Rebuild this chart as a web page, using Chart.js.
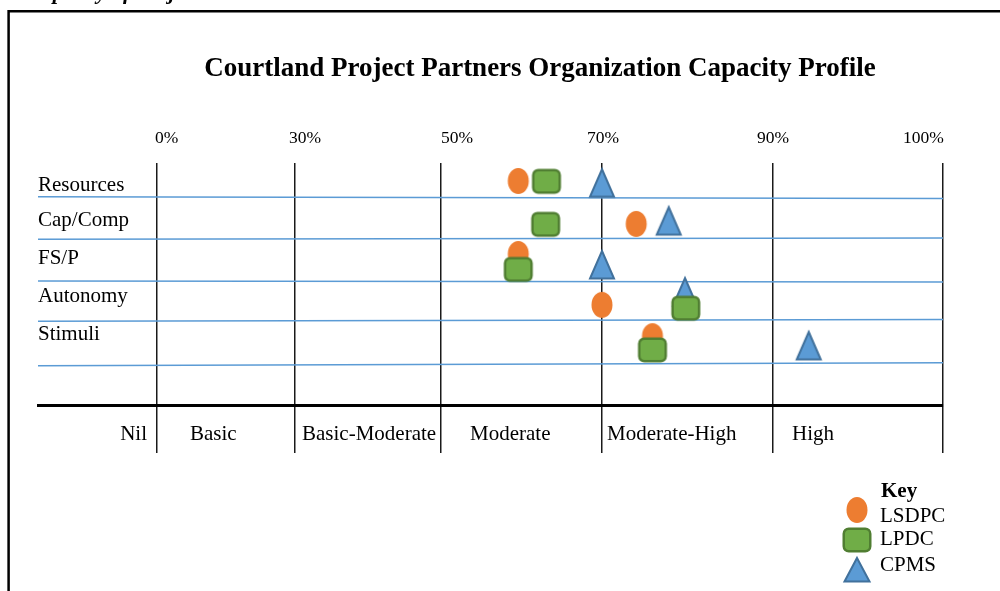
<!DOCTYPE html>
<html>
<head>
<meta charset="utf-8">
<script src="https://cdn.jsdelivr.net/npm/chart.js@4.4.1/dist/chart.umd.min.js"></script>
<style>
  html, body { margin: 0; padding: 0; background: #fff; }
  #wrap { width: 1000px; height: 591px; position: relative; }
</style>
</head>
<body>
<div id="wrap"><canvas id="profileChart"></canvas></div>
<script>
// Capacity levels (%) marking the band edges, and the band names below the axis
const levels = [0, 30, 50, 70, 90, 100];
const bandNames = ['Nil', 'Basic', 'Basic-Moderate', 'Moderate', 'Moderate-High', 'High'];
const rows = ['Resources', 'Cap/Comp', 'FS/P', 'Autonomy', 'Stimuli'];
const seriesNames = ['LSDPC', 'LPDC', 'CPMS'];

// capacity (%) per row, and vertical place within the row band (row units)
const lsdpcPct = [59.6, 74, 59.6, 70, 75.9];
const lsdpcRow = [0.63, 1.66, 2.38, 3.6, 4.35];
const lpdcPct = [63.1, 63, 59.6, 79.8, 75.9];
const lpdcRow = [0.64, 1.67, 2.75, 3.68, 4.68];
const cpmsPct = [70, 77.8, 70, 79.7, 92.1];
const cpmsRow = [0.66, 1.57, 2.62, 3.27, 4.56];

// the hand drawn row rules (row units at left and right end)
const ruleLeft = [1.01, 2.03, 3.03, 3.99, 5.06];
const ruleRight = [1.05, 2.0, 3.05, 3.95, 4.99];

const NIL_EDGE = -20;  // left edge of the Nil band
const edgeFracs = [0, 0.1315, 0.284, 0.4453, 0.6232, 0.8122, 1];
const edgeVals = [NIL_EDGE, ...levels];

// piecewise linear scale: every band has its own width
class BandScale extends Chart.LinearScale {
  buildTicks() { return levels.map(v => ({ value: v })); }
  getPixelForValue(v) {
    if (v === null || v === undefined) return NaN;
    let i = 0;
    while (i < edgeVals.length - 2 && v > edgeVals[i + 1]) i++;
    const t = (v - edgeVals[i]) / (edgeVals[i + 1] - edgeVals[i]);
    return this.getPixelForDecimal(edgeFracs[i] + t * (edgeFracs[i + 1] - edgeFracs[i]));
  }
  getValueForPixel(p) {
    const d = this.getDecimalForPixel(p);
    let i = 0;
    while (i < edgeFracs.length - 2 && d > edgeFracs[i + 1]) i++;
    const t = (d - edgeFracs[i]) / (edgeFracs[i + 1] - edgeFracs[i]);
    return edgeVals[i] + t * (edgeVals[i + 1] - edgeVals[i]);
  }
}
BandScale.id = 'band';
BandScale.defaults = {};
Chart.register(BandScale);

function makeMarker(w, h, draw) {
  const c = document.createElement('canvas');
  c.width = w; c.height = h;
  draw(c.getContext('2d'), w / 2, h / 2);
  return c;
}
const circleImg = makeMarker(24, 28, (g, cx, cy) => {
  g.fillStyle = '#ED7D31';
  g.beginPath(); g.ellipse(cx, cy, 10.5, 13, 0, 0, Math.PI * 2); g.fill();
});
const squareImg = makeMarker(32, 28, (g, cx, cy) => {
  g.fillStyle = '#70AD47'; g.strokeStyle = '#507E32'; g.lineWidth = 2.5;
  g.beginPath(); g.roundRect(cx - 13.25, cy - 11.25, 26.5, 22.5, 5); g.fill(); g.stroke();
});
function triangle(w, h, tw, th) {
  return makeMarker(w, h, (g, cx, cy) => {
    g.fillStyle = '#5B9BD5'; g.strokeStyle = '#41719C'; g.lineWidth = 2;
    g.beginPath();
    g.moveTo(cx, cy - th / 2 + 1.5);
    g.lineTo(cx + tw / 2, cy + th / 2);
    g.lineTo(cx - tw / 2, cy + th / 2);
    g.closePath(); g.fill(); g.stroke();
  });
}
const triangleImg = triangle(30, 36, 24, 29);
const keyTriangleImg = triangle(30, 32, 25, 25);

const serif = "'Liberation Serif', 'Times New Roman', serif";
const markerImgs = [circleImg, squareImg, triangleImg];
const keyImgs = [circleImg, squareImg, keyTriangleImg];

const pts = (xs, ys) => rows.map((_, i) => ({ x: xs[i], y: ys[i] }));

const datasets = [
  { label: seriesNames[0], data: pts(lsdpcPct, lsdpcRow), pointStyle: circleImg, order: 2 },
  { label: seriesNames[1], data: pts(lpdcPct, lpdcRow), pointStyle: squareImg, order: 1 },
  { label: seriesNames[2], data: pts(cpmsPct, cpmsRow), pointStyle: triangleImg, order: 3 },
].map(d => ({ ...d, type: 'scatter', pointRadius: 12, pointHoverRadius: 12 }));

rows.forEach((r, i) => {
  datasets.push({
    type: 'line', label: 'rule ' + r, order: 10,
    data: [{ x: NIL_EDGE, y: ruleLeft[i] }, { x: 100, y: ruleRight[i] }],
    borderColor: '#5B9BD5', borderWidth: 1.5, pointRadius: 0, fill: false,
  });
});

// text and frame drawn around the plot
const decor = {
  id: 'decor',
  beforeDraw(chart) {
    const ctx = chart.ctx;
    ctx.save();
    ctx.fillStyle = '#fff';
    ctx.fillRect(0, 0, chart.width, chart.height);
    ctx.strokeStyle = '#000'; ctx.lineWidth = 2.5;
    ctx.beginPath();
    ctx.moveTo(1000, 11.3); ctx.lineTo(8.6, 11.3); ctx.lineTo(8.6, 591);
    ctx.stroke();
    ctx.fillStyle = '#000';
    ctx.font = `italic bold 22px ${serif}`;
    ctx.textBaseline = 'alphabetic';
    ctx.fillText('Capacity of Project Partners', 27, -1);
    ctx.restore();
  },
  afterDraw(chart) {
    const ctx = chart.ctx;
    const xs = chart.scales.x, ys = chart.scales.y;
    const area = chart.chartArea;
    ctx.save();
    ctx.fillStyle = '#000';
    ctx.textBaseline = 'alphabetic';

    ctx.font = `bold 27px ${serif}`;
    ctx.textAlign = 'center';
    ctx.fillText('Courtland Project Partners Organization Capacity Profile', 540, 76);

    // level ticks above the plot
    const tickDx = [-2, -6, 0, -15, -16, -40];
    ctx.font = `17.5px ${serif}`;
    ctx.textAlign = 'left';
    levels.forEach((v, i) => ctx.fillText(v + '%', xs.getPixelForValue(v) + tickDx[i], 142.5));

    // row names
    const rowAt = [0.86, 1.72, 2.62, 3.53, 4.45];
    ctx.font = `21px ${serif}`;
    rows.forEach((r, i) => ctx.fillText(r, area.left, ys.getPixelForValue(rowAt[i])));

    // band names below the axis
    const bandDx = [-10, 33, 7, 29, 5, 19];
    const bandBase = [levels[0], ...levels.slice(0, 5)];
    bandNames.forEach((b, i) => {
      ctx.textAlign = i === 0 ? 'right' : 'left';
      ctx.fillText(b, xs.getPixelForValue(bandBase[i]) + bandDx[i], 440);
    });

    // key
    ctx.textAlign = 'left';
    ctx.font = `bold 21px ${serif}`;
    ctx.fillText('Key', 881, 497);
    ctx.font = `21px ${serif}`;
    const keyY = [510, 540, 569];
    const keyBase = [521.7, 545, 571];
    seriesNames.forEach((s, i) => {
      const img = keyImgs[i];
      ctx.drawImage(img, 857 - img.width / 2, keyY[i] - img.height / 2);
      ctx.fillText(s, 880, keyBase[i]);
    });
    ctx.restore();
  }
};

new Chart(document.getElementById('profileChart'), {
  data: { datasets },
  options: {
    responsive: true,
    maintainAspectRatio: false,
    animation: false,
    events: [],
    layout: { padding: { left: 38, right: 57, top: 163, bottom: 138 } },
    plugins: { legend: { display: false }, tooltip: { enabled: false }, title: { display: false } },
    scales: {
      x: {
        type: 'band', min: NIL_EDGE, max: 100, position: 'bottom',
        grid: { color: '#1a1a1a', lineWidth: 1.5, tickLength: 48, drawTicks: true },
        border: { display: true, color: '#000', width: 3 },
        ticks: { display: false, autoSkip: false },
      },
      y: { type: 'linear', min: 0.2, max: 6, reverse: true, display: false },
    },
  },
  plugins: [decor],
});
</script>
</body>
</html>
